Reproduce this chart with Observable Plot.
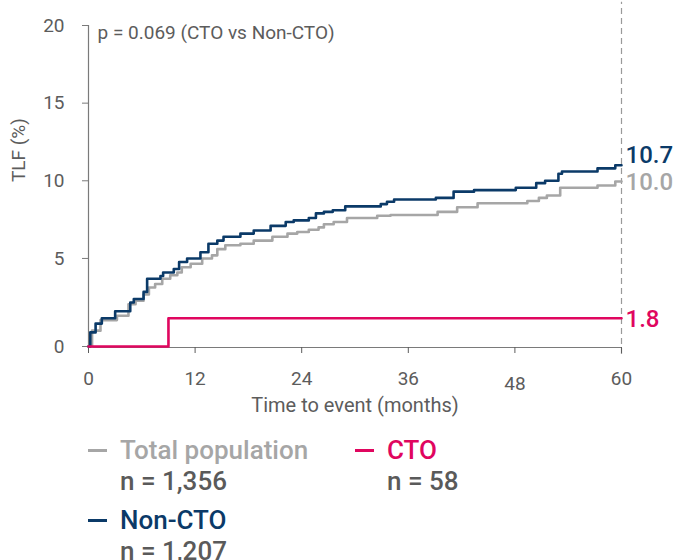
<!DOCTYPE html>
<html>
<head>
<meta charset="utf-8">
<script src="https://cdn.jsdelivr.net/npm/d3@7"></script>
<script src="https://cdn.jsdelivr.net/npm/@observablehq/plot@0.6"></script>
<style>
  html, body { margin: 0; padding: 0; background: #fff; }
  body { width: 676px; font-family: Roboto, "Noto Sans", sans-serif; }
  #legend { position: relative; width: 676px; height: 140px; font-weight: 500; font-size: 26px; }
  .item { position: absolute; line-height: 30px; white-space: nowrap; }
  .dash { position: absolute; width: 19px; height: 3px; }
</style>
</head>
<body>
<div id="chart"></div>
<div id="legend"></div>
<script>
// ---- data ----
const xTicks = [0, 12, 24, 36, 48, 60];
const yTicks = [0, 5, 10, 15, 20];

const totalMonths = [0, 0.4, 1.35, 3.2, 4.5, 5.3, 6.2, 6.8, 7.5, 8.3, 9.2, 10.0, 10.5, 11.5, 12.8, 13.9, 14.5, 15.4, 17.1, 18.6, 20.7, 22.4, 23.5, 24.8, 25.9, 26.5, 27.6, 29.1, 32.5, 34.0, 39.3, 41.5, 43.8, 49.4, 50.7, 51.6, 53.1, 57.3, 59.3, 60];
const totalValues = [0, 0.9, 1.5, 1.75, 2.4, 2.6, 2.95, 3.35, 3.55, 3.85, 4.05, 4.2, 4.5, 4.7, 5.0, 5.2, 5.6, 5.85, 5.95, 6.15, 6.4, 6.6, 6.7, 6.85, 7.0, 7.2, 7.35, 7.6, 7.75, 7.8, 8.0, 8.3, 8.55, 8.7, 8.9, 9.05, 9.55, 9.7, 9.95, 9.95];

const nonCtoMonths = [0, 0.2, 0.8, 1.5, 3.0, 4.7, 5.1, 6.2, 6.6, 8.1, 8.4, 9.6, 10.2, 11.1, 12.6, 13.5, 14.5, 15.2, 17.1, 18.6, 20.5, 22.2, 23.1, 24.8, 25.6, 26.5, 27.5, 28.9, 32.9, 33.6, 34.4, 39.1, 41.1, 43.4, 48.1, 50.4, 51.4, 52.9, 53.3, 57.3, 59.3, 60];
const nonCtoValues = [0, 0.8, 1.3, 1.6, 2.0, 2.5, 2.7, 3.1, 3.85, 4.0, 4.2, 4.4, 4.8, 5.0, 5.4, 5.95, 6.15, 6.4, 6.6, 6.8, 7.1, 7.35, 7.45, 7.6, 7.9, 8.0, 8.1, 8.35, 8.5, 8.65, 8.8, 8.9, 9.3, 9.4, 9.55, 9.85, 10.0, 10.45, 10.6, 10.8, 11.0, 11.0];

const ctoMonths = [0, 9, 60];
const ctoValues = [0, 1.6, 1.6];

const seriesNames = ["Total population", "Non-CTO", "CTO"];
const seriesN = ["n = 1,356", "n = 1,207", "n = 58"];
const endLabels = ["10.0", "10.7", "1.8"];
const colors = ["#a6a6a6", "#0b3a68", "#e0065f"];

const pText = "p = 0.069 (CTO vs Non-CTO)";
const xLabel = "Time to event (months)";
const yLabel = "TLF (%)";

// ---- build ----
const mk = (ms, vs, s) => ms.map((m, i) => ({month: m, value: vs[i], series: s}));
const total = mk(totalMonths, totalValues, seriesNames[0]);
const nonCto = mk(nonCtoMonths, nonCtoValues, seriesNames[1]);
const cto = mk(ctoMonths, ctoValues, seriesNames[2]);
const ends = [total, nonCto, cto].map((arr, i) => ({...arr[arr.length - 1], label: endLabels[i], color: colors[i]}));

// the original axis gives the 0–5 band a little more room than the rest
const k = 88 / 77.6;
const yTransform = v => v <= 5 ? v * k : 5 * k + (v - 5);
const yInverse = u => u <= 5 * k ? u / k : u - 5 * k + 5;

const txt = "#5c5c5c";
const font = "Roboto, 'Noto Sans', sans-serif";

const chart = Plot.plot({
  width: 676,
  height: 425,
  marginLeft: 88,
  marginRight: 55,
  marginTop: 24,
  marginBottom: 78,
  style: {fontFamily: font, background: "#fff", overflow: "visible"},
  x: {domain: [0, 60]},
  y: {transform: yTransform, domain: [0, yTransform(20)], range: [346, 25]},
  marks: [
    // axes lines
    Plot.ruleX([0], {y1: 0, y2: 20, stroke: "#7a7a7a", strokeWidth: 1.2}),
    Plot.ruleY([0], {x1: 0, x2: 60, stroke: "#7a7a7a", strokeWidth: 1.2, dy: 1}),
    Plot.ruleX([60], {y1: -0.45, y2: 21.5, stroke: "#9a9a9a", strokeWidth: 1.2, strokeDasharray: "6,4"}),
    Plot.axisY({ticks: yTicks.map(yTransform), tickFormat: u => Math.round(yInverse(u)), tickSize: 6, tickPadding: 18, fontSize: 19, color: txt, label: null, stroke: "#7a7a7a"}),
    Plot.axisX({ticks: xTicks, tickSize: 6, tickPadding: 18, fontSize: 19, color: txt, label: null,
      tickFormat: d => d === 48 ? "" : d}),
    Plot.axisX({ticks: [48], tickSize: 0, tickPadding: 29, fontSize: 19, color: txt, label: null}),
    // text annotations
    Plot.text([pText], {frameAnchor: "top-left", dx: 9, dy: 1, textAnchor: "start", fontSize: 19, fill: txt}),
    Plot.text([xLabel], {frameAnchor: "bottom", dy: 64, fontSize: 20, fill: txt}),
    Plot.text([yLabel], {frameAnchor: "left", dx: -70, dy: -4, rotate: -90, fontSize: 19, fill: txt}),
    // curves
    Plot.line(total, {x: "month", y: "value", curve: "step-after", stroke: colors[0], strokeWidth: 2.6}),
    Plot.line(nonCto, {x: "month", y: "value", curve: "step-after", stroke: colors[1], strokeWidth: 2.6}),
    Plot.line(cto, {x: "month", y: "value", curve: "step-after", stroke: colors[2], strokeWidth: 2.6}),
    // end labels
    Plot.text(ends.filter(d => d.label !== "10.7"), {x: "month", y: "value", text: "label", fill: "color", dx: 4, dy: 1, textAnchor: "start", fontSize: 24, fontWeight: 500}),
    Plot.text(ends.filter(d => d.label === "10.7"), {x: "month", y: "value", text: "label", fill: "color", dx: 4, dy: -10, textAnchor: "start", fontSize: 24, fontWeight: 500})
  ]
});
document.getElementById("chart").appendChild(chart);

// ---- legend ----
const legend = document.getElementById("legend");
const layout = [
  {i: 0, left: 88, top: 10},
  {i: 1, left: 88, top: 80},
  {i: 2, left: 355, top: 10}
];
for (const {i, left, top} of layout) {
  const dash = document.createElement("div");
  dash.className = "dash";
  dash.style.left = left + "px";
  dash.style.top = (top + 14) + "px";
  dash.style.background = colors[i];
  legend.appendChild(dash);
  const name = document.createElement("div");
  name.className = "item";
  name.style.left = (left + 32) + "px";
  name.style.top = top + "px";
  name.style.color = colors[i];
  name.textContent = seriesNames[i];
  legend.appendChild(name);
  const n = document.createElement("div");
  n.className = "item";
  n.style.left = (left + 32) + "px";
  n.style.top = (top + 31) + "px";
  n.style.color = "#5a5a5a";
  n.textContent = seriesN[i];
  legend.appendChild(n);
}
</script>
</body>
</html>
